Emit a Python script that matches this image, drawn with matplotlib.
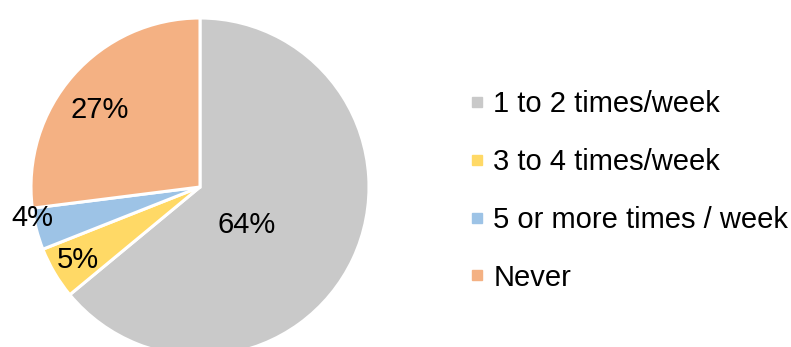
import matplotlib.pyplot as plt
from matplotlib.lines import Line2D

categories = ["1 to 2 times/week", "3 to 4 times/week", "5 or more times / week", "Never"]
shares = [64, 5, 4, 27]
pct_labels = ["64%", "5%", "4%", "27%"]
colors = ["#C9C9C9", "#FFD966", "#9DC3E6", "#F4B183"]

plt.rcParams['font.family'] = ['Liberation Sans', 'DejaVu Sans']

fig = plt.figure(figsize=(7.91, 3.47), dpi=100)
ax = fig.add_axes([0, 0, 1, 1])

cx, cy, r = 200, 160, 169
wedges, _ = ax.pie(shares, colors=colors, startangle=90, counterclock=False,
                   center=(cx, cy), radius=r, frame=True,
                   wedgeprops=dict(edgecolor='white', linewidth=2.2))
ax.set_xlim(0, 791)
ax.set_ylim(0, 347)
ax.set_aspect('equal')
ax.axis('off')

# label positions (pixel offsets from pie centre)
label_pos = [(47, -38), (-122, -73), (-168, -31), (-100, 77)]
for txt, (dx, dy) in zip(pct_labels, label_pos):
    ax.text(cx + dx, cy + dy, txt, fontsize=21, ha='center', va='center', color='black')

handles = [Line2D([], [], marker='s', linestyle='none', markersize=7,
                  markerfacecolor=c, markeredgecolor=c) for c in colors]
fig.legend(handles, categories, loc='center left', bbox_to_anchor=(470 / 791, 1 - 191 / 347),
           frameon=False, fontsize=21, handlelength=0.5, handletextpad=0.3,
           labelspacing=1.02, borderaxespad=0, borderpad=0)

fig.savefig('out.png', dpi=100)
